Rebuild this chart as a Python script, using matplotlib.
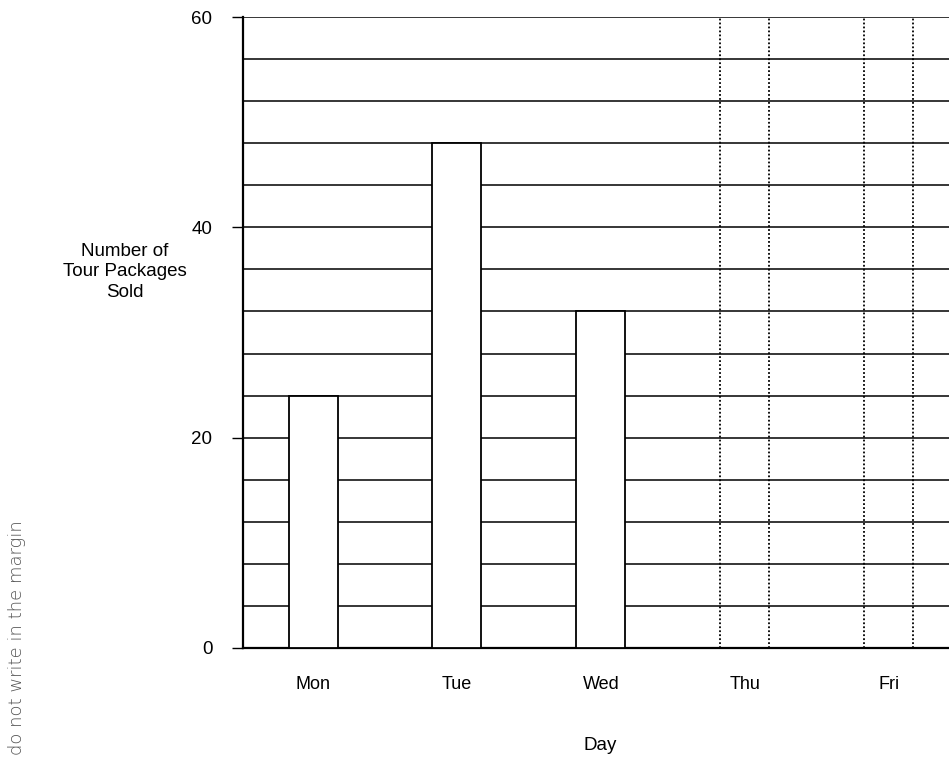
import matplotlib.pyplot as plt
import numpy as np

plt.rcParams['font.family'] = ['Liberation Sans Narrow', 'Liberation Sans', 'DejaVu Sans']

days = ['Mon', 'Tue', 'Wed', 'Thu', 'Fri']
sold = [24, 48, 32]          # Thu and Fri are left blank
y_major = [0, 20, 40, 60]
y_grid = np.arange(0, 61, 4)
y_top = 60

fig = plt.figure(figsize=(9.49, 7.64), dpi=100)
ax = fig.add_axes([243/949, 1-648/764, 1-243/949, (648-17)/764])

x = np.arange(len(days))
w = 0.34

# horizontal grid every 4 packages
for g in y_grid:
    ax.axhline(g, color='black', lw=1.1, zorder=1)

# filled bars
ax.bar(x[:len(sold)], sold, width=w, color='white', edgecolor='black', lw=1.3, zorder=3)

# dotted outlines for the empty days
for xi in x[len(sold):]:
    for e in (xi - w/2, xi + w/2):
        ax.plot([e, e], [0, y_top], color='black', lw=1.3, ls=(0, (1, 1.2)), zorder=2)

ax.set_xlim(-0.487, 4.42)
ax.set_ylim(0, y_top)
ax.set_yticks(y_major)
ax.set_yticklabels([str(v) for v in y_major], fontsize=13.5)
ax.tick_params(axis='y', length=8, width=1, pad=14)
ax.set_xticks(x)
ax.set_xticklabels(days, fontsize=13)
ax.tick_params(axis='x', length=0, pad=20)

for s in ['top', 'right']:
    ax.spines[s].set_visible(False)
ax.spines['left'].set_linewidth(1.6)
ax.spines['bottom'].set_linewidth(1.6)

fig.text(125/949, 1-272/764, 'Number of\nTour Packages\nSold', ha='center', va='center',
         fontsize=13.5, linespacing=1.25)
fig.text(600/949, 1-745/764, 'Day', ha='center', va='center', fontsize=13.5)

fig.text(17/949, 1-520/764, 'do not write in the margin', rotation=90,
         rotation_mode='anchor', ha='right', va='center', fontsize=13,
         color='#555555', family='DejaVu Sans', fontweight='light')

fig.savefig('out.png', dpi=100)
